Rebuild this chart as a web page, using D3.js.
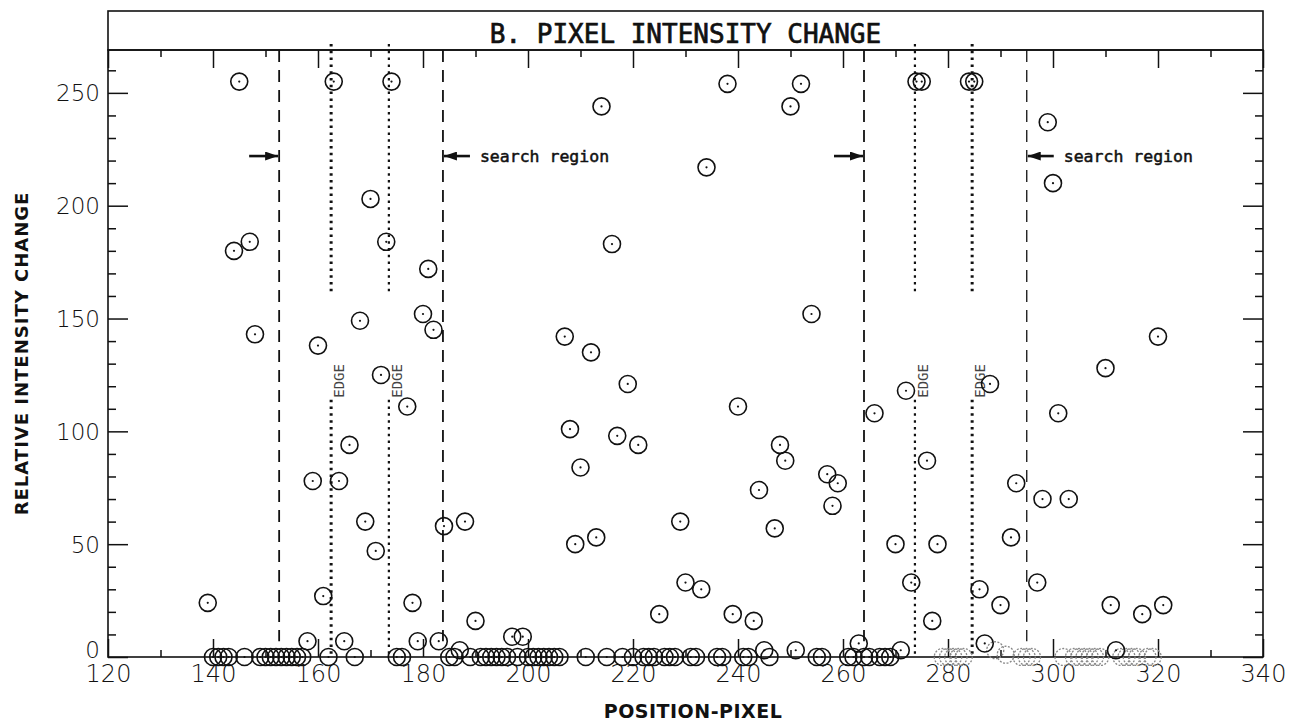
<!DOCTYPE html>
<html>
<head>
<meta charset="utf-8">
<script src="https://cdn.jsdelivr.net/npm/d3@7/dist/d3.min.js"></script>
<style>
body { margin: 0; background: #fff; }
</style>
</head>
<body>
<svg id="chart"></svg>
<script>
var width = 1298, height = 723;

// data: pixel position -> relative intensity change
var pixels = [139,140,141,142,143,144,145,146,147,148,149,150,151,152,153,154,155,156,157,158,
  159,160,161,162,163,164,165,166,167,168,169,170,171,172,173,174,175,176,177,178,
  179,180,181,182,183,184,185,186,187,188,189,190,191,192,193,194,195,196,197,198,
  199,200,201,202,203,204,205,206,207,208,209,210,211,212,213,214,215,216,217,218,
  219,220,221,222,223,224,225,226,227,228,229,230,231,232,233,234,236,237,238,239,
  240,241,242,243,244,245,246,247,248,249,250,251,252,254,255,256,257,258,259,261,
  262,263,264,265,266,267,268,269,270,271,272,273,274,275,276,277,278,284,285,286,
  287,288,290,292,293,297,298,299,300,301,303,310,311,312,317,320,321];
var changes = [24,0,0,0,0,180,255,0,184,143,0,0,0,0,0,0,0,0,0,7,
  78,138,27,0,255,78,7,94,0,149,60,203,47,125,184,255,0,0,111,24,
  7,152,172,145,7,58,0,0,3,60,0,16,0,0,0,0,0,0,9,0,
  9,0,0,0,0,0,0,0,142,101,50,84,0,135,53,244,0,183,98,0,
  121,0,94,0,0,0,19,0,0,0,60,33,0,0,30,217,0,0,254,19,
  111,0,0,16,74,3,0,57,94,87,244,3,254,152,0,0,81,67,77,0,
  0,6,0,0,108,0,0,0,50,3,118,33,255,255,87,16,50,255,255,30,
  6,121,23,53,77,33,70,237,210,108,70,128,23,3,19,142,23];

// faint (washed out) marks on the right part of the axis
var faintPixels = [279,280,281,282,283,289,291,294,295,296,302,304,305,306,307,308,309,313,314,315,316,318,319];
var faintChanges = [0,0,0,0,0,3,1,0,0,0,0,0,0,0,0,0,0,0,0,0,0,0,0];

var searchRegions = [[152.6, 183.8], [264, 295]];
var edges = [162.5, 173.5, 273.7, 284.6];
var edgeGap = [114, 162];
var arrowLevel = 222;

var xTicks = [120,140,160,180,200,220,240,260,280,300,320,340];
var xMinor = d3.range(130, 340, 20);
var yTicks = [0,50,100,150,200,250];
var yMinor = d3.range(10, 270, 10).filter(function(d) { return d % 50 !== 0; });

var x = d3.scaleLinear().domain([120, 340]).range([108, 1263]);
var y = d3.scaleLinear().domain([0, 269]).range([657, 50]);

var svg = d3.select('#chart').attr('width', width).attr('height', height);

var defs = svg.append('defs');
defs.append('marker').attr('id', 'head')
  .attr('markerUnits', 'userSpaceOnUse')
  .attr('viewBox', '0 0 13 9').attr('refX', 13).attr('refY', 4.5)
  .attr('markerWidth', 13).attr('markerHeight', 9)
  .attr('orient', 'auto')
  .append('path').attr('d', 'M0,0 L13,4.5 L0,9 Z').attr('fill', '#111');

// title box and frame
svg.append('rect').attr('x', x(120)).attr('y', 11)
  .attr('width', x(340) - x(120)).attr('height', y.range()[1] - 11)
  .attr('fill', 'none').attr('stroke', '#111').attr('stroke-width', 1.6);
svg.append('rect').attr('x', x(120)).attr('y', y(269))
  .attr('width', x(340) - x(120)).attr('height', y(0) - y(269))
  .attr('fill', 'none').attr('stroke', '#111').attr('stroke-width', 1.6);

svg.append('text').attr('x', (x(120) + x(340)) / 2).attr('y', 43)
  .attr('text-anchor', 'middle')
  .style('font-family', 'DejaVu Sans Mono').style('font-size', '26px')
  .style('fill', '#111').style('stroke', '#111').style('stroke-width', 0.7)
  .text('B. PIXEL INTENSITY CHANGE');

function styleAxis(g) {
  g.select('.domain').remove();
  g.selectAll('.tick line').attr('stroke', '#111').attr('stroke-width', 1.5);
}

svg.append('g').attr('transform', 'translate(0,' + y(0) + ')')
  .call(d3.axisBottom(x).tickValues(xTicks).tickSize(-18).tickSizeOuter(0).tickPadding(8).tickFormat(d3.format('d')))
  .call(styleAxis)
  .selectAll('text').style('font-family', 'DejaVu Sans').style('font-weight', 200)
  .style('font-size', '24px').style('fill', '#111');
svg.append('g').attr('transform', 'translate(0,' + y(0) + ')')
  .call(d3.axisBottom(x).tickValues(xMinor).tickSize(-7).tickSizeOuter(0).tickFormat(''))
  .call(styleAxis);
svg.append('g').attr('transform', 'translate(0,' + y(269) + ')')
  .call(d3.axisTop(x).tickValues(xTicks).tickSize(-18).tickSizeOuter(0).tickFormat(''))
  .call(styleAxis);
svg.append('g').attr('transform', 'translate(0,' + y(269) + ')')
  .call(d3.axisTop(x).tickValues(xMinor).tickSize(-7).tickSizeOuter(0).tickFormat(''))
  .call(styleAxis);

var left = svg.append('g').attr('transform', 'translate(' + x(120) + ',0)')
  .call(d3.axisLeft(y).tickValues(yTicks).tickSize(-20).tickSizeOuter(0).tickPadding(8))
  .call(styleAxis);
left.selectAll('text').style('font-family', 'DejaVu Sans').style('font-weight', 200)
  .style('font-size', '23px').style('fill', '#111')
  .attr('dy', function(d) { return d === 0 ? '0.0em' : '0.35em'; });
svg.append('g').attr('transform', 'translate(' + x(120) + ',0)')
  .call(d3.axisLeft(y).tickValues(yMinor).tickSize(-8).tickSizeOuter(0).tickFormat(''))
  .call(styleAxis);
svg.append('g').attr('transform', 'translate(' + x(340) + ',0)')
  .call(d3.axisRight(y).tickValues(yTicks).tickSize(-20).tickSizeOuter(0).tickFormat(''))
  .call(styleAxis);
svg.append('g').attr('transform', 'translate(' + x(340) + ',0)')
  .call(d3.axisRight(y).tickValues(yMinor).tickSize(-8).tickSizeOuter(0).tickFormat(''))
  .call(styleAxis);

// axis titles
svg.append('text').attr('x', 693).attr('y', 718)
  .attr('text-anchor', 'middle')
  .style('font-family', 'DejaVu Sans').style('font-size', '19px').style('font-weight', 600)
  .style('letter-spacing', '0.5px').style('fill', '#111')
  .text('POSITION-PIXEL');
svg.append('text')
  .attr('transform', 'translate(28,' + ((y(0) + y(269)) / 2) + ') rotate(-90)')
  .attr('text-anchor', 'middle')
  .style('font-family', 'DejaVu Sans').style('font-size', '18px').style('font-weight', 600)
  .style('letter-spacing', '1px').style('fill', '#111')
  .text('RELATIVE INTENSITY CHANGE');

// search region boundaries
var bounds = [];
searchRegions.forEach(function(r, i) { bounds.push({v: r[0], side: 'start', i: i}); bounds.push({v: r[1], side: 'end', i: i}); });

svg.selectAll('.bound').data(bounds).enter().append('line')
  .attr('class', 'bound')
  .attr('x1', function(d) { return x(d.v); }).attr('x2', function(d) { return x(d.v); })
  .attr('y1', y(269)).attr('y2', y(7))
  .attr('stroke', '#111').attr('stroke-width', function(d) { return d.v === 295 ? 1.3 : 1.8; })
  .attr('stroke-dasharray', '12,8');

svg.selectAll('.arrow').data(bounds).enter().append('line')
  .attr('class', 'arrow')
  .attr('x1', function(d) { return d.side === 'start' ? x(d.v) - 30 : x(d.v) + 27; })
  .attr('x2', function(d) { return x(d.v) + (d.side === 'start' ? -1 : 1); })
  .attr('y1', y(arrowLevel)).attr('y2', y(arrowLevel))
  .attr('stroke', '#111').attr('stroke-width', 2.6)
  .attr('marker-end', 'url(#head)');

svg.selectAll('.region-label').data(bounds.filter(function(d) { return d.side === 'end'; }))
  .enter().append('text')
  .attr('class', 'region-label')
  .attr('x', function(d) { return x(d.v) + 37; })
  .attr('y', y(arrowLevel) + 6)
  .style('font-family', 'DejaVu Sans Mono').style('font-size', '16.5px')
  .style('fill', '#111').style('stroke', '#111').style('stroke-width', 0.5)
  .text('search region');

// edge markers
var edgeSegs = [];
edges.forEach(function(e, i) {
  edgeSegs.push({v: e, i: i, top: 269, bottom: edgeGap[1], extra: 6});
  edgeSegs.push({v: e, i: i, top: edgeGap[0], bottom: 0, extra: 0});
});
svg.selectAll('.edge').data(edgeSegs).enter().append('line')
  .attr('class', 'edge')
  .attr('x1', function(d) { return x(d.v); }).attr('x2', function(d) { return x(d.v); })
  .attr('y1', function(d) { return y(d.top) - d.extra; }).attr('y2', function(d) { return y(d.bottom); })
  .attr('stroke', '#111')
  .attr('stroke-width', function(d) { return (d.i === 0 || d.i === 3) ? 3 : 2.2; })
  .attr('stroke-dasharray', '2.5,4.3');

svg.selectAll('.edge-label').data(edges).enter().append('text')
  .attr('class', 'edge-label')
  .attr('transform', function(d) { return 'translate(' + (x(d) + 13) + ',' + (y(edgeGap[0]) - 2) + ') rotate(-90)'; })
  .style('font-family', 'DejaVu Sans Mono').style('font-size', '14px').style('font-weight', 200)
  .style('fill', '#444')
  .text('EDGE');

// marks
var points = pixels.map(function(p, i) { return {p: p, v: changes[i]}; });
var faint = faintPixels.map(function(p, i) { return {p: p, v: faintChanges[i]}; });

svg.append('g').selectAll('circle').data(faint).enter().append('circle')
  .attr('cx', function(d) { return x(d.p); }).attr('cy', function(d) { return y(d.v); })
  .attr('r', 8.5).attr('fill', 'none')
  .attr('stroke', '#888').attr('stroke-width', 1.3).attr('stroke-dasharray', '2,1.5');

var marks = svg.append('g').selectAll('g').data(points).enter().append('g')
  .attr('transform', function(d) { return 'translate(' + x(d.p) + ',' + y(d.v) + ')'; });
marks.append('circle').attr('r', 8.5).attr('fill', 'none')
  .attr('stroke', '#111').attr('stroke-width', 1.6);
marks.append('circle').attr('r', 1.1).attr('fill', '#111');
</script>
</body>
</html>
